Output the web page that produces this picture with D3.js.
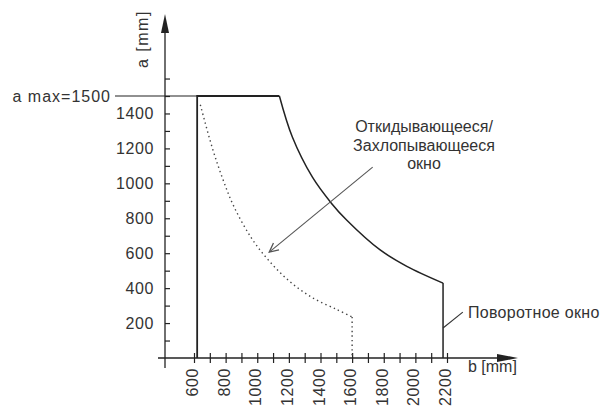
<!DOCTYPE html>
<html>
<head>
<meta charset="utf-8">
<script src="https://cdn.jsdelivr.net/npm/d3@7"></script>
<style>
  body { margin: 0; background: #fff; }
  svg { font-family: "Liberation Sans", Arial, sans-serif; }
  .tick line { stroke: #222; stroke-width: 1.2; }
  .tick text { fill: #333; font-size: 16px; letter-spacing: 0.6px; }
</style>
</head>
<body>
<div id="chart"></div>
<script>
// ticks
const bTicks = [600, 700, 800, 900, 1000, 1100, 1200, 1300, 1400, 1500, 1600, 1700, 1800, 1900, 2000, 2100, 2200]
const aTicks = [100, 200, 300, 400, 500, 600, 700, 800, 900, 1000, 1100, 1200, 1300, 1400, 1500, 1600]
const aMax = 1500

// pivot window (solid): frame + curve
const frameB = [620, 620, 1140]
const frameA = [0, 1500, 1500]
const solidB = [1140, 1222, 1349, 1470, 1565, 1775, 1946, 2175]
const solidA = [1500, 1265, 1035, 885, 790, 620, 525, 429]
const solidEndB = 2175

// tilt/turn window (dotted)
const dotB = [640, 714, 780, 854, 968, 1076, 1203, 1349, 1502, 1600]
const dotA = [1450, 1208, 1030, 864, 680, 555, 440, 345, 278, 235]

// annotations
const arrowFrom = [1730, 1093]
const arrowTo = [1076, 606]
const leaderFrom = [2175, 172]
const leaderTo = [2300, 263]

const W = 601, H = 406
const svg = d3.select("#chart").append("svg")
    .attr("width", W)
    .attr("height", H)

const x = d3.scaleLinear().domain([600, 2200]).range([194, 447])
const y = d3.scaleLinear().domain([0, 1500]).range([358, 96])

const ink = "#222"
const txt = "#333"

// x axis
const xAxis = d3.axisBottom(x)
    .tickValues(bTicks)
    .tickSize(5)
    .tickFormat(d => d % 200 === 0 ? d : "")

const xGroup = svg.append("g")
    .attr("transform", `translate(0, ${y(0)})`)
    .call(xAxis)
xGroup.select(".domain").remove()
xGroup.selectAll(".tick line").attr("y1", -5)
xGroup.selectAll(".tick text")
    .attr("transform", "rotate(-90)")
    .attr("text-anchor", "end")
    .attr("x", -10)
    .attr("y", -2)
    .attr("dy", "0.35em")

// y axis
const yAxis = d3.axisLeft(y)
    .tickValues(aTicks)
    .tickSize(5)
    .tickFormat(d => (d % 200 === 0 && d <= 1400) ? d : "")

const yGroup = svg.append("g")
    .attr("transform", `translate(165, 0)`)
    .call(yAxis)
yGroup.select(".domain").remove()
yGroup.selectAll(".tick line").attr("x2", 5)
yGroup.selectAll(".tick text").attr("x", -11)

// axis lines with arrows
svg.append("line")
    .attr("x1", 158).attr("x2", 500)
    .attr("y1", y(0)).attr("y2", y(0))
    .attr("stroke", ink).attr("stroke-width", 1.3)
svg.append("path")
    .attr("d", `M518,${y(0)} L497,${y(0) - 4} L497,${y(0) + 4} Z`)
    .attr("fill", ink)

svg.append("line")
    .attr("x1", 165).attr("x2", 165)
    .attr("y1", 368).attr("y2", 30)
    .attr("stroke", ink).attr("stroke-width", 1.3)
svg.append("path")
    .attr("d", "M165,14 L161,33 L169,33 Z")
    .attr("fill", ink)

// axis titles
svg.append("text")
    .attr("transform", "translate(148, 68) rotate(-90)")
    .attr("font-size", 16)
    .attr("letter-spacing", "1.5px")
    .attr("fill", txt)
    .text("a [mm]")

svg.append("text")
    .attr("x", 468).attr("y", 372)
    .attr("font-size", 16)
    .attr("fill", txt)
    .text("b [mm]")

// a max line
svg.append("line")
    .attr("x1", 115).attr("x2", x(frameB[1]))
    .attr("y1", y(aMax)).attr("y2", y(aMax))
    .attr("stroke", ink).attr("stroke-width", 1.2)
svg.append("text")
    .attr("x", 111).attr("y", y(aMax))
    .attr("dy", "0.35em")
    .attr("text-anchor", "end")
    .attr("font-size", 16)
    .attr("letter-spacing", "1px")
    .attr("fill", txt)
    .text("a max=" + aMax)

// solid outline
const lineLin = d3.line().x(d => x(d[0])).y(d => y(d[1]))
const lineSmooth = d3.line().x(d => x(d[0])).y(d => y(d[1])).curve(d3.curveCatmullRom.alpha(0.5))

svg.append("path")
    .datum(frameB.map((b, i) => [b, frameA[i]]))
    .attr("d", lineLin)
    .attr("fill", "none").attr("stroke", ink).attr("stroke-width", 1.8)

svg.append("path")
    .datum(solidB.map((b, i) => [b, solidA[i]]))
    .attr("d", lineSmooth)
    .attr("fill", "none").attr("stroke", ink).attr("stroke-width", 1.5)

svg.append("path")
    .datum([[solidEndB, solidA[solidA.length - 1]], [solidEndB, 0]])
    .attr("d", lineLin)
    .attr("fill", "none").attr("stroke", ink).attr("stroke-width", 1.5)

// dotted curve
const dotPts = dotB.map((b, i) => [b, dotA[i]])
svg.append("path")
    .datum(dotPts)
    .attr("d", lineSmooth)
    .attr("fill", "none").attr("stroke", "#444").attr("stroke-width", 1.4)
    .attr("stroke-dasharray", "1.4 3.2")
svg.append("path")
    .datum([dotPts[dotPts.length - 1], [dotB[dotB.length - 1], 0]])
    .attr("d", lineLin)
    .attr("fill", "none").attr("stroke", "#444").attr("stroke-width", 1.4)
    .attr("stroke-dasharray", "1.4 3.2")

// pointer arrow
const ax1 = x(arrowFrom[0]), ay1 = y(arrowFrom[1])
const ax2 = x(arrowTo[0]), ay2 = y(arrowTo[1])
svg.append("line")
    .attr("x1", ax1).attr("y1", ay1)
    .attr("x2", ax2).attr("y2", ay2)
    .attr("stroke", "#555").attr("stroke-width", 1.1)
const ang = Math.atan2(ay2 - ay1, ax2 - ax1)
const hl = 10, hw = 0.45
svg.append("path")
    .attr("d", `M${ax2 - hl * Math.cos(ang - hw)},${ay2 - hl * Math.sin(ang - hw)} L${ax2},${ay2} L${ax2 - hl * Math.cos(ang + hw)},${ay2 - hl * Math.sin(ang + hw)}`)
    .attr("fill", "none").attr("stroke", "#555").attr("stroke-width", 1.3)

// leader line
svg.append("line")
    .attr("x1", x(leaderFrom[0])).attr("y1", y(leaderFrom[1]))
    .attr("x2", x(leaderTo[0])).attr("y2", y(leaderTo[1]))
    .attr("stroke", txt).attr("stroke-width", 1.1)

// labels
const note = svg.append("text")
    .attr("font-size", 16)
    .attr("fill", txt)
    .attr("text-anchor", "middle")
note.append("tspan").attr("x", 424).attr("y", 132).text("Откидывающееся/")
note.append("tspan").attr("x", 424).attr("y", 151).text("Захлопывающееся")
note.append("tspan").attr("x", 424).attr("y", 169).text("окно")

svg.append("text")
    .attr("x", 468).attr("y", 318)
    .attr("font-size", 16)
    .attr("letter-spacing", "0.3px")
    .attr("fill", txt)
    .text("Поворотное окно")
</script>
</body>
</html>
